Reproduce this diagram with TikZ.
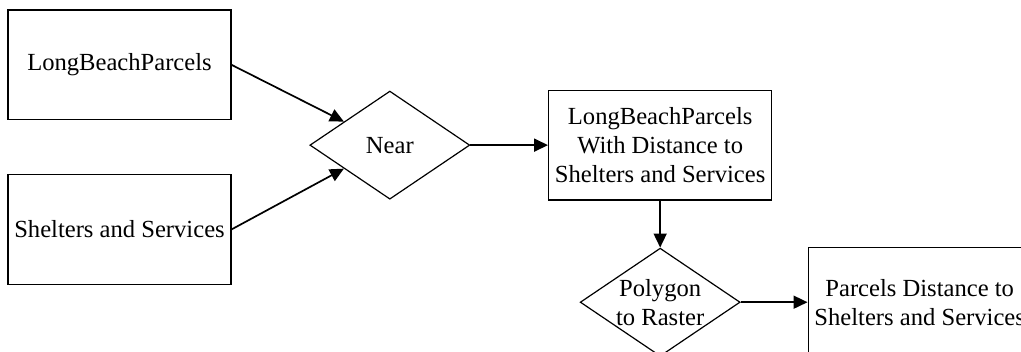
\documentclass[tikz,border=0pt]{standalone}
\usepackage{fontspec}
\setmainfont{Liberation Serif}
\usetikzlibrary{arrows.meta,shapes.geometric,calc}

\begin{document}
\begin{tikzpicture}[
    font=\fontsize{12.3}{14.5}\selectfont,
    dataset/.style={
        draw=black,
        line width=0.6pt,
        minimum width=3.92cm,
        minimum height=1.93cm,
        align=center,
        inner sep=2pt
    },
    operation/.style={
        draw=black,
        line width=0.6pt,
        diamond,
        shape aspect=1.48,
        minimum width=2.81cm,
        minimum height=1.9cm,
        align=center,
        inner sep=0pt
    },
    flow/.style={
        -{Triangle[length=7pt,width=6.5pt]},
        draw=black,
        line width=0.85pt
    }
]
    \useasboundingbox (-6.85,2.55) rectangle (11.09,-3.62);
    \clip (-6.85,2.55) rectangle (11.09,-3.62);

    \node[dataset] (parcels) at (-4.75,1.41)
        {LongBeachParcels};
    \node[dataset] (shelters) at (-4.75,-1.48)
        {Shelters and Services};
    \node[operation] (near) at (0,0)
        {Near};
    \node[dataset] (withdist) at (4.75,0)
        {LongBeachParcels\\With Distance to\\Shelters and Services};
    \node[operation] (toraster) at (4.75,-2.76)
        {Polygon\\to Raster};
    \node[dataset] (distraster) at (9.31,-2.76)
        {Parcels Distance to\\Shelters and Services};

    \draw[flow] (parcels.east) -- ($(near.west)!0.43!(near.north)$);
    \draw[flow] (shelters.east) -- ($(near.west)!0.43!(near.south)$);
    \draw[flow] (near.east) -- (withdist.west);
    \draw[flow] (withdist.south) -- (toraster.north);
    \draw[flow] (toraster.east) -- (distraster.west);
\end{tikzpicture}
\end{document}
